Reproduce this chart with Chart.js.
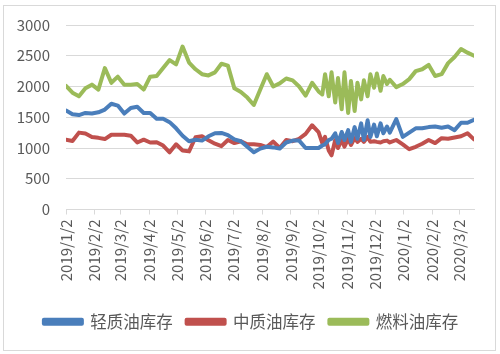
<!DOCTYPE html>
<html>
<head>
<meta charset="utf-8">
<script src="https://cdn.jsdelivr.net/npm/chart.js@4/dist/chart.umd.min.js"></script>
<style>
    html, body { margin: 0; padding: 0; background: #fff; }
    #wrap { position: relative; width: 500px; height: 354px; }
    #frame { position: absolute; left: 3px; top: 5px; width: 491px; height: 344px; border: 1px solid #d9d9d9; pointer-events: none; }
</style>
</head>
<body>
<div id="wrap">
    <canvas id="myChart" width="500" height="354"></canvas>
    <div id="frame"></div>
</div>
<script>
// report dates: weekly, twice a week in Oct-Dec 2019, then weekly again
const dates = [
    '2019-01-02', '2019-01-09', '2019-01-16', '2019-01-23', '2019-01-30',
    '2019-02-06', '2019-02-13', '2019-02-20', '2019-02-27',
    '2019-03-06', '2019-03-13', '2019-03-20', '2019-03-27',
    '2019-04-03', '2019-04-10', '2019-04-17', '2019-04-24',
    '2019-05-01', '2019-05-08', '2019-05-15', '2019-05-22', '2019-05-29',
    '2019-06-05', '2019-06-12', '2019-06-19', '2019-06-26',
    '2019-07-03', '2019-07-10', '2019-07-17', '2019-07-24', '2019-07-31',
    '2019-08-07', '2019-08-14', '2019-08-21', '2019-08-28',
    '2019-09-04', '2019-09-11', '2019-09-18', '2019-09-25',
    '2019-10-02', '2019-10-06', '2019-10-09', '2019-10-13', '2019-10-16',
    '2019-10-20', '2019-10-23', '2019-10-27', '2019-10-30',
    '2019-11-03', '2019-11-06', '2019-11-10', '2019-11-13', '2019-11-17',
    '2019-11-20', '2019-11-24', '2019-11-27',
    '2019-12-01', '2019-12-04', '2019-12-08', '2019-12-11', '2019-12-15',
    '2019-12-18', '2019-12-25',
    '2020-01-01', '2020-01-08', '2020-01-15', '2020-01-22', '2020-01-29',
    '2020-02-05', '2020-02-12', '2020-02-19', '2020-02-26',
    '2020-03-04', '2020-03-11', '2020-03-18'
];

const lightOil = [
    1610, 1550, 1535, 1570, 1560, 1580, 1625, 1720, 1690, 1560,
    1650, 1670, 1570, 1570, 1475, 1475, 1420, 1320, 1200, 1110,
    1135, 1120, 1190, 1240, 1245, 1210, 1140, 1110, 1020, 930,
    990, 1020, 1010, 990, 1090, 1120, 1120, 1000, 1000, 1000,
    1040, 1060, 1130, 1150, 1240, 1080, 1260, 1130, 1290, 1100,
    1340, 1150, 1400, 1130, 1450, 1180, 1380, 1190, 1400, 1240,
    1350, 1250, 1470,
    1180, 1250, 1320, 1320, 1340, 1350, 1330, 1350, 1290, 1410, 1410, 1460
];

const middleOil = [
    1135, 1115, 1250, 1235, 1180, 1165, 1145, 1215, 1215, 1215,
    1200, 1090, 1135, 1090, 1095, 1040, 930, 1060, 960, 945,
    1175, 1190, 1125, 1070, 1030, 1130, 1080, 1110, 1060, 1060,
    1050, 1015, 1105, 1000, 1130, 1110, 1150, 1230, 1370, 1260,
    1080, 1180, 960, 880, 1130, 1000, 1130, 1020, 1150, 1050,
    1160, 1100, 1150, 1100, 1180, 1100, 1110, 1100, 1090, 1110,
    1120, 1090, 1130,
    1060, 980, 1020, 1070, 1130, 1080, 1160, 1150, 1170, 1190, 1240, 1140
];

const fuelOil = [
    2010, 1900, 1840, 1970, 2030, 1950, 2300, 2060, 2160, 2030,
    2030, 2040, 1950, 2160, 2170, 2300, 2430, 2360, 2650, 2390,
    2280, 2200, 2180, 2230, 2370, 2340, 1970, 1910, 1820, 1700,
    1950, 2200, 2000, 2050, 2130, 2100, 2000, 1850, 2060, 1920,
    1870, 2200, 1840, 2230, 1740, 2140, 1630, 2230, 1570, 2090,
    1600, 2060, 1790, 2100, 1840, 2200, 1980, 2210, 1930, 2170,
    2040, 2110, 1990,
    2040, 2120, 2250, 2280, 2350, 2170, 2200, 2380, 2480, 2610, 2550, 2500
];

const tickLabels = [
    '2019/1/2', '2019/2/2', '2019/3/2', '2019/4/2', '2019/5/2',
    '2019/6/2', '2019/7/2', '2019/8/2', '2019/9/2', '2019/10/2',
    '2019/11/2', '2019/12/2', '2020/1/2', '2020/2/2', '2020/3/2'
];

const seriesNames = ['轻质油库存', '中质油库存', '燃料油库存'];
const seriesColors = ['#4a7ebb', '#c0504d', '#9bbb59'];

// days since the first report date
function toDay(str) {
    let parts = str.split(/[-\/]/).map(Number);
    let start = Date.UTC(2019, 0, 2);
    return (Date.UTC(parts[0], parts[1] - 1, parts[2]) - start) / 86400000;
}

function toPoints(values) {
    return values.map((v, i) => ({x: toDay(dates[i]), y: v}));
}

const tickDays = tickLabels.map(toDay);
const numFont = {family: "'Noto Sans CJK SC', 'Noto Sans', sans-serif", size: 15};

const allSeries = [lightOil, middleOil, fuelOil];
const datasets = allSeries.map((values, i) => ({
    label: seriesNames[i],
    data: toPoints(values),
    borderColor: seriesColors[i],
    backgroundColor: seriesColors[i],
    borderWidth: 4,
    borderJoinStyle: 'round',
    borderCapStyle: 'round',
    pointRadius: 0,
    tension: 0
}));

// the legend sits centred on the whole frame, not just the left part
const legendShift = {
    id: 'legendShift',
    afterLayout(chart) {
        chart.legend.left += 14;
        chart.legend.right += 14;
    }
};

let ctx = document.getElementById('myChart').getContext('2d');
window.myChart = new Chart(ctx, {
    type: 'line',
    data: {datasets: datasets},
    plugins: [legendShift],
    options: {
        responsive: false,
        animation: false,
        layout: {
            padding: {top: 24, right: 26, bottom: 14, left: 0}
        },
        plugins: {
            legend: {
                position: 'bottom',
                labels: {
                    boxWidth: 38,
                    boxHeight: 4,
                    padding: 14,
                    color: '#595959',
                    font: {family: "'Noto Sans CJK SC', sans-serif", size: 16.5}
                }
            },
            tooltip: {enabled: false}
        },
        scales: {
            x: {
                type: 'linear',
                min: 0,
                max: toDay(dates[dates.length - 1]),
                afterBuildTicks: (scale) => {
                    scale.ticks = tickDays.map(d => ({value: d}));
                },
                afterFit: (scale) => {
                    scale.height = 90;
                },
                grid: {
                    drawOnChartArea: false,
                    drawTicks: true,
                    tickLength: 5,
                    color: '#d9d9d9'
                },
                border: {color: '#d9d9d9'},
                ticks: {
                    autoSkip: false,
                    minRotation: 90,
                    maxRotation: 90,
                    padding: 5,
                    color: '#595959',
                    font: numFont,
                    callback: (value) => {
                        let idx = tickDays.indexOf(value);
                        return idx >= 0 ? tickLabels[idx] : '';
                    }
                }
            },
            y: {
                min: 0,
                max: 3000,
                afterFit: (scale) => {
                    scale.width = 66;
                },
                grid: {
                    color: '#d9d9d9',
                    drawTicks: false
                },
                border: {display: false},
                ticks: {
                    stepSize: 500,
                    padding: 16,
                    color: '#595959',
                    font: numFont,
                    callback: (value) => String(value)
                }
            }
        }
    }
});
</script>
</body>
</html>
